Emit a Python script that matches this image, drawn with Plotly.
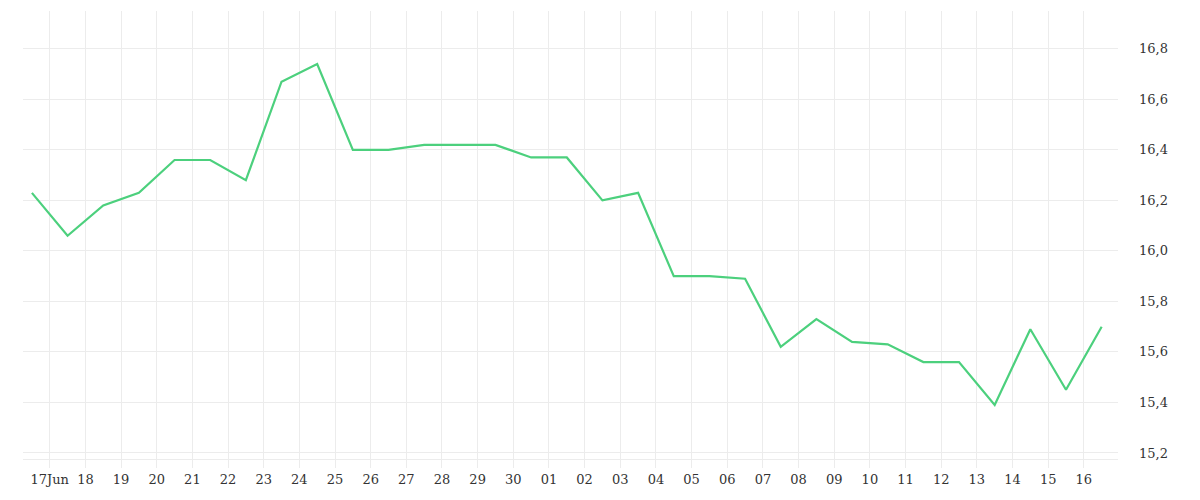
import plotly.graph_objects as go
import pandas as pd

# daily values, plotted at noon
dates = pd.date_range("2023-06-16 12:00", periods=31, freq="D")
values = [16.23, 16.06, 16.18, 16.23, 16.36, 16.36, 16.28, 16.67, 16.74, 16.40,
          16.40, 16.42, 16.42, 16.42, 16.37, 16.37, 16.20, 16.23, 15.90, 15.90,
          15.89, 15.62, 15.73, 15.64, 15.63, 15.56, 15.56, 15.39, 15.69, 15.45, 15.70]

tick_days = pd.date_range("2023-06-17", "2023-07-16", freq="D")
tick_text = ["17Jun" if i == 0 else d.strftime("%d") for i, d in enumerate(tick_days)]
y_ticks = [15.2, 15.4, 15.6, 15.8, 16.0, 16.2, 16.4, 16.6, 16.8]

fig = go.Figure(go.Scatter(
    x=dates, y=values, mode="lines",
    line=dict(color="#4cd07d", width=2.2),
))

grid = "#ececec"
fig.update_layout(
    width=1200, height=500,
    margin=dict(l=15, r=90, t=3, b=49),
    plot_bgcolor="white", paper_bgcolor="white",
    font=dict(family="DejaVu Serif", size=13, color="#333"),
    showlegend=False,
    separators=",.",
    xaxis=dict(
        range=[pd.Timestamp("2023-06-16 06:00"), pd.Timestamp("2023-07-16 23:00")],
        tickvals=tick_days, ticktext=tick_text,
        showgrid=True, gridcolor=grid,
        ticks="outside", ticklen=8, tickcolor=grid,
        showline=True, linecolor=grid, zeroline=False,
    ),
    yaxis=dict(
        side="right", range=[15.176, 16.95],
        tickvals=y_ticks, ticktext=[f"{v:.1f}".replace(".", ",") for v in y_ticks],
        showgrid=True, gridcolor=grid, zeroline=False,
        ticklabelstandoff=20,
    ),
)

fig.write_html("out.html")
